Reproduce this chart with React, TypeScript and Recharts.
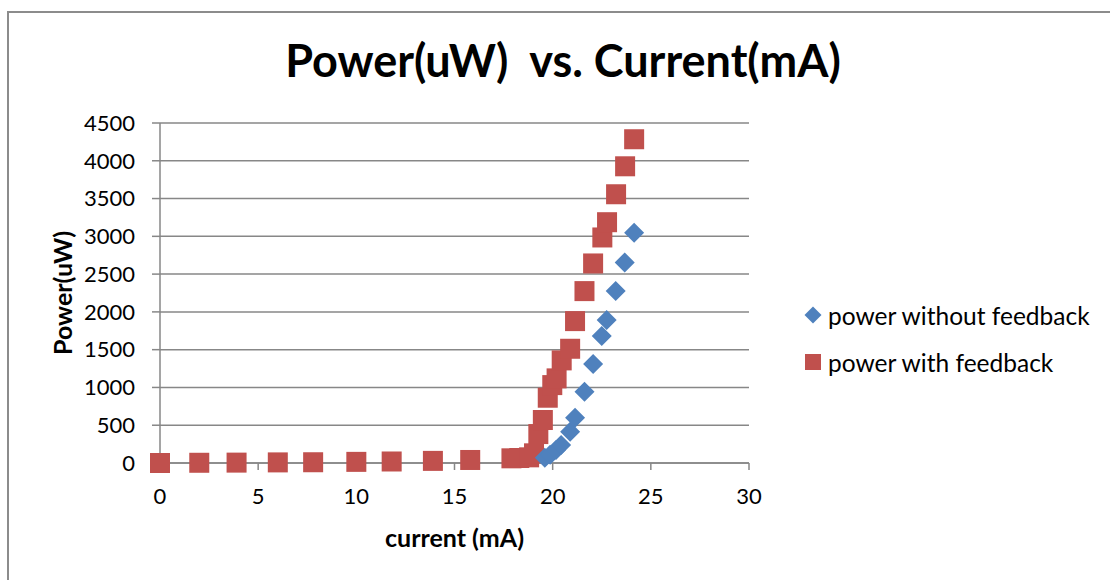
import { ScatterChart, Scatter, XAxis, YAxis, CartesianGrid, Label } from "recharts";

// power with feedback (red squares)
const withCurrent = [0, 2, 3.9, 6, 7.8, 10, 11.8, 13.9, 15.8, 17.9, 18.3, 18.8, 19.05, 19.27, 19.5, 19.75, 19.98, 20.2, 20.46, 20.89, 21.14, 21.62, 22.06, 22.53, 22.77, 23.23, 23.69, 24.15];
const withPower = [0, 3, 5, 8, 10, 15, 20, 28, 40, 62, 66, 75, 128, 383, 569, 864, 1031, 1120, 1358, 1512, 1878, 2275, 2641, 2985, 3187, 3557, 3927, 4285];

// power without feedback (blue diamonds)
const withoutCurrent = [19.6, 19.87, 20.17, 20.43, 20.89, 21.14, 21.62, 22.06, 22.5, 22.75, 23.21, 23.67, 24.15];
const withoutPower = [70, 110, 172, 238, 414, 599, 943, 1309, 1680, 1891, 2275, 2654, 3046];

const xTicks = [0, 5, 10, 15, 20, 25, 30];
const yTicks = [0, 500, 1000, 1500, 2000, 2500, 3000, 3500, 4000, 4500];

const withData = withCurrent.map((c, i) => ({ current: c, power: withPower[i] }));
const withoutData = withoutCurrent.map((c, i) => ({ current: c, power: withoutPower[i] }));

const FONT = "Lato, 'Open Sans', sans-serif";
const RED = "#C0504D";
const BLUE = "#4F81BD";
const GRID = "#878787";

const Square = (props: any) => {
  const { cx, cy } = props;
  return <rect x={cx - 10} y={cy - 10} width={20} height={20} fill={RED} />;
};

const Diamond = (props: any) => {
  const { cx, cy } = props;
  return <polygon points={`${cx},${cy - 10} ${cx + 10},${cy} ${cx},${cy + 10} ${cx - 10},${cy}`} fill={BLUE} />;
};

const LegendBox = () => (
  <div style={{ position: "absolute", left: 803, top: 300, fontFamily: FONT, fontSize: 24.5, color: "#000", whiteSpace: "nowrap" }}>
    <div style={{ display: "flex", alignItems: "center", height: 30 }}>
      <svg width={20} height={20} style={{ marginRight: 5 }}>
        <polygon points="10,1.5 18.5,10 10,18.5 1.5,10" fill={BLUE} />
      </svg>
      <span>power without feedback</span>
    </div>
    <div style={{ display: "flex", alignItems: "center", height: 30, marginTop: 17 }}>
      <svg width={20} height={20} style={{ marginRight: 5 }}>
        <rect x={2} y={2} width={16} height={16} fill={RED} />
      </svg>
      <span>power with feedback</span>
    </div>
  </div>
);

export default function App() {
  return (
    <div style={{ position: "absolute", left: 0, top: 0, width: 1110, height: 580, overflow: "hidden", background: "#fff" }}>
      <div style={{ position: "absolute", left: 7, top: 11, width: 1120, height: 600, borderLeft: "2px solid #8c8c8c", borderTop: "2px solid #8c8c8c" }} />
      <div style={{ position: "absolute", left: 0, top: 0 }}>
        <ScatterChart width={1110} height={580} margin={{ top: 123, right: 361, bottom: 57, left: 100 }}>
          <CartesianGrid vertical={false} stroke={GRID} strokeWidth={1.5} />
          <XAxis
            type="number"
            dataKey="current"
            domain={[0, 30]}
            ticks={xTicks}
            interval={0}
            height={60}
            stroke={GRID}
            strokeWidth={1.5}
            tickSize={7}
            tickMargin={18}
            tick={{ fill: "#000", fontSize: 22, fontFamily: FONT }}
          >
            <Label
              content={({ viewBox }: any) => (
                <text x={viewBox.x + viewBox.width / 2} y={viewBox.y + 74} textAnchor="middle" dominantBaseline="central" fontFamily={FONT} fontWeight={700} fontSize={25} fill="#000">
                  current (mA)
                </text>
              )}
            />
          </XAxis>
          <YAxis
            type="number"
            dataKey="power"
            domain={[0, 4500]}
            ticks={yTicks}
            interval={0}
            width={60}
            stroke={GRID}
            strokeWidth={1.5}
            tickSize={8}
            tickMargin={17}
            tick={{ fill: "#000", fontSize: 22, fontFamily: FONT }}
          >
            <Label
              content={({ viewBox }: any) => {
                const x = viewBox.x - 38;
                const y = viewBox.y + viewBox.height / 2;
                return (
                  <text x={x} y={y} transform={`rotate(-90 ${x} ${y})`} textAnchor="middle" dominantBaseline="central" fontFamily={FONT} fontWeight={700} fontSize={25} fill="#000">
                    Power(uW)
                  </text>
                );
              }}
            />
          </YAxis>
          <Scatter name="power with feedback" data={withData} shape={<Square />} isAnimationActive={false} />
          <Scatter name="power without feedback" data={withoutData} shape={<Diamond />} isAnimationActive={false} />
        </ScatterChart>
      </div>
      <div style={{ position: "absolute", left: 253, top: 33, width: 620, textAlign: "center", fontFamily: FONT, fontWeight: 700, fontSize: 45, color: "#000", whiteSpace: "pre" }}>
        {"Power(uW)  vs. Current(mA)"}
      </div>
      <LegendBox />
    </div>
  );
}
